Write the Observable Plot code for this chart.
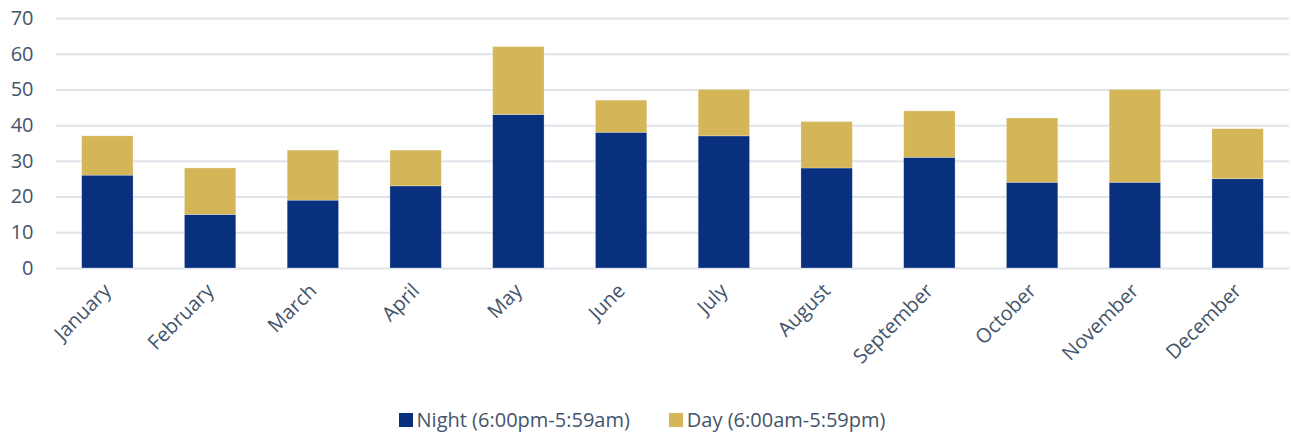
<!DOCTYPE html>
<html>
<head>
<meta charset="utf-8">
<script src="https://cdn.jsdelivr.net/npm/d3@7"></script>
<script src="https://cdn.jsdelivr.net/npm/@observablehq/plot@0.6"></script>
<style>
  html, body { margin: 0; padding: 0; background: #fff; }
  body { width: 1291px; height: 436px; overflow: hidden; font-family: "Open Sans", sans-serif; }
  #legend { display: flex; justify-content: center; align-items: center; gap: 39px; margin-top: 11px; padding-right: 7px; font-size: 20px; line-height: 26px; color: #44546a; }
  .item { display: flex; align-items: center; gap: 4px; }
  .sw { width: 14px; height: 14px; display: inline-block; }
</style>
</head>
<body>
<div id="chart"></div>
<div id="legend"></div>
<script>
const months = ["January","February","March","April","May","June","July","August","September","October","November","December"];
const night = [26, 15, 19, 23, 43, 38, 37, 28, 31, 24, 24, 25];
const day   = [11, 13, 14, 10, 19,  9, 13, 13, 13, 18, 26, 14];
const seriesNames = ["Night (6:00pm-5:59am)", "Day (6:00am-5:59pm)"];
const seriesColors = ["#08307f", "#d4b558"];
const yTicks = [0, 10, 20, 30, 40, 50, 60, 70];

const data = [];
months.forEach((m, i) => {
  data.push({month: m, series: seriesNames[0], value: night[i]});
  data.push({month: m, series: seriesNames[1], value: day[i]});
});

const chart = Plot.plot({
  width: 1291,
  height: 396,
  marginTop: 18,
  marginBottom: 128,
  marginLeft: 56,
  marginRight: 2,
  style: {fontFamily: "Open Sans, sans-serif", fontSize: "20px", color: "#44546a", background: "#fff"},
  x: {domain: months, paddingInner: 0.5, paddingOuter: 0.25, round: false, label: null},
  y: {domain: [0, 70], label: null},
  color: {domain: seriesNames, range: seriesColors},
  marks: [
    Plot.ruleY(yTicks, {stroke: "#dfe3ea", strokeWidth: 2}),
    Plot.barY(data, {x: "month", y: "value", fill: "series", order: seriesNames, stroke: "#ffffff", strokeOpacity: 0.35, strokeWidth: 0.75}),
    Plot.axisY({ticks: yTicks, tickSize: 0, tickPadding: 23, fontSize: 20, fill: "#44546a", label: null}),
    Plot.axisX({tickSize: 0, tickPadding: 19, tickRotate: -45, fontSize: 20, fill: "#44546a", label: null})
  ]
});
document.getElementById("chart").appendChild(chart);

const legend = document.getElementById("legend");
seriesNames.forEach((n, i) => {
  const it = document.createElement("div");
  it.className = "item";
  const sw = document.createElement("span");
  sw.className = "sw";
  sw.style.background = seriesColors[i];
  const t = document.createElement("span");
  t.textContent = n;
  it.appendChild(sw); it.appendChild(t);
  legend.appendChild(it);
});
</script>
</body>
</html>
